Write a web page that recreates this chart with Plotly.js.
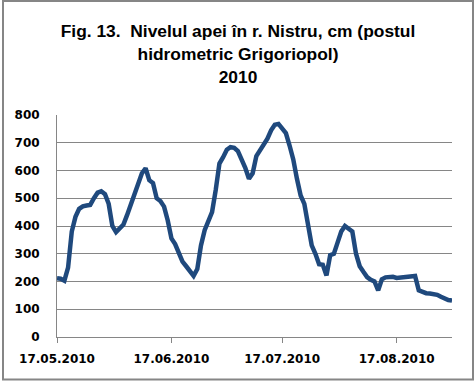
<!DOCTYPE html>
<html>
<head>
<meta charset="utf-8">
<script src="https://cdn.plot.ly/plotly-3.0.1.min.js"></script>
<style>
  html, body { margin: 0; padding: 0; background: #fff; }
  #chart { width: 476px; height: 381px; }
</style>
</head>
<body>
<div id="chart"></div>
<script>
// Daily water level (cm), Nistru river, Grigoriopol gauge, from 17.05.2010
const startDate = '2010-05-17';
const levels = [
  212, 210, 203, 250, 380, 433, 462, 471, 474, 476,
  500, 520, 525, 515, 480, 400, 378, 390, 405, 440,
  480, 515, 560, 590, 608, 565, 555, 500, 490, 470,
  420, 355, 335, 298, 272, 255, 238, 220, 245, 330,
  385, 415, 450, 530, 625, 648, 675, 684, 682, 670,
  640, 610, 570, 590, 652, 672, 690, 715, 745, 765,
  768, 750, 735, 690, 640, 570, 510, 480, 400, 330,
  300, 262, 260, 222, 295, 300, 340, 380, 400, 392,
  380, 300, 255, 235, 216, 206, 200, 168, 208, 215,
  218, 217, 213, 215, 218, 220, 222, 220, 168, 162,
  158, 157, 156, 152, 145, 138, 133, 131
];
const tickDates = ['2010-05-17', '2010-06-17', '2010-07-17', '2010-08-17'];
const tickLabels = ['17.05.2010', '17.06.2010', '17.07.2010', '17.08.2010'];
const axisRange = ['2010-05-17', '2010-09-01'];
const yTicks = [0, 100, 200, 300, 400, 500, 600, 700, 800];

// one date per daily reading
const dates = [];
const d0 = new Date(startDate + 'T00:00:00Z');
for (let i = 0; i < levels.length; i++) {
  const d = new Date(d0.getTime() + i * 86400000);
  dates.push(d.toISOString().slice(0, 10));
}

const W = 476, H = 381;
const M = {l: 57, r: 24, t: 115, b: 44};
const pw = W - M.l - M.r, ph = H - M.t - M.b;
const px = v => (v - M.l) / pw;
const py = v => (H - v - M.b) / ph;

const trace = {
  x: dates,
  y: levels,
  type: 'scatter',
  mode: 'lines',
  line: {color: '#1F497D', width: 4.5, shape: 'linear'},
  hoverinfo: 'x+y'
};

const layout = {
  width: W, height: H,
  margin: M,
  paper_bgcolor: '#fff',
  plot_bgcolor: '#fff',
  showlegend: false,
  title: {
    text: 'Fig. 13.  Nivelul apei în r. Nistru, cm (postul<br>hidrometric Grigoriopol)<br>2010',
    x: 0.5, xanchor: 'center',
    y: 0.902, yanchor: 'top',
    font: {family: 'Liberation Sans, Arial, sans-serif', size: 17.4, color: '#000', weight: 'bold'}
  },
  xaxis: {
    type: 'date',
    range: axisRange,
    tickvals: tickDates,
    ticktext: tickLabels,
    showgrid: false,
    zeroline: false,
    showline: true,
    linecolor: '#868686',
    linewidth: 1,
    ticks: 'outside',
    ticklen: 5,
    tickcolor: '#868686',
    ticklabelstandoff: 6,
    tickfont: {family: 'DejaVu Sans, sans-serif', size: 12, color: '#000', weight: 'bold'},
    fixedrange: true
  },
  yaxis: {
    range: [0, 800],
    tickvals: yTicks,
    ticktext: yTicks.map(String),
    showgrid: true,
    gridcolor: '#868686',
    gridwidth: 1,
    zeroline: false,
    showline: true,
    linecolor: '#868686',
    linewidth: 1,
    ticks: '',
    ticklabelstandoff: 14,
    tickfont: {family: 'DejaVu Sans, sans-serif', size: 12, color: '#000', weight: 'bold'},
    fixedrange: true
  },
  shapes: [{
    type: 'rect', xref: 'paper', yref: 'paper',
    x0: px(3), x1: px(473), y0: py(379.5), y1: py(1),
    line: {color: '#868686', width: 2},
    fillcolor: 'rgba(0,0,0,0)',
    layer: 'above'
  }]
};

Plotly.newPlot('chart', [trace], layout, {displayModeBar: false, staticPlot: true});
</script>
</body>
</html>
